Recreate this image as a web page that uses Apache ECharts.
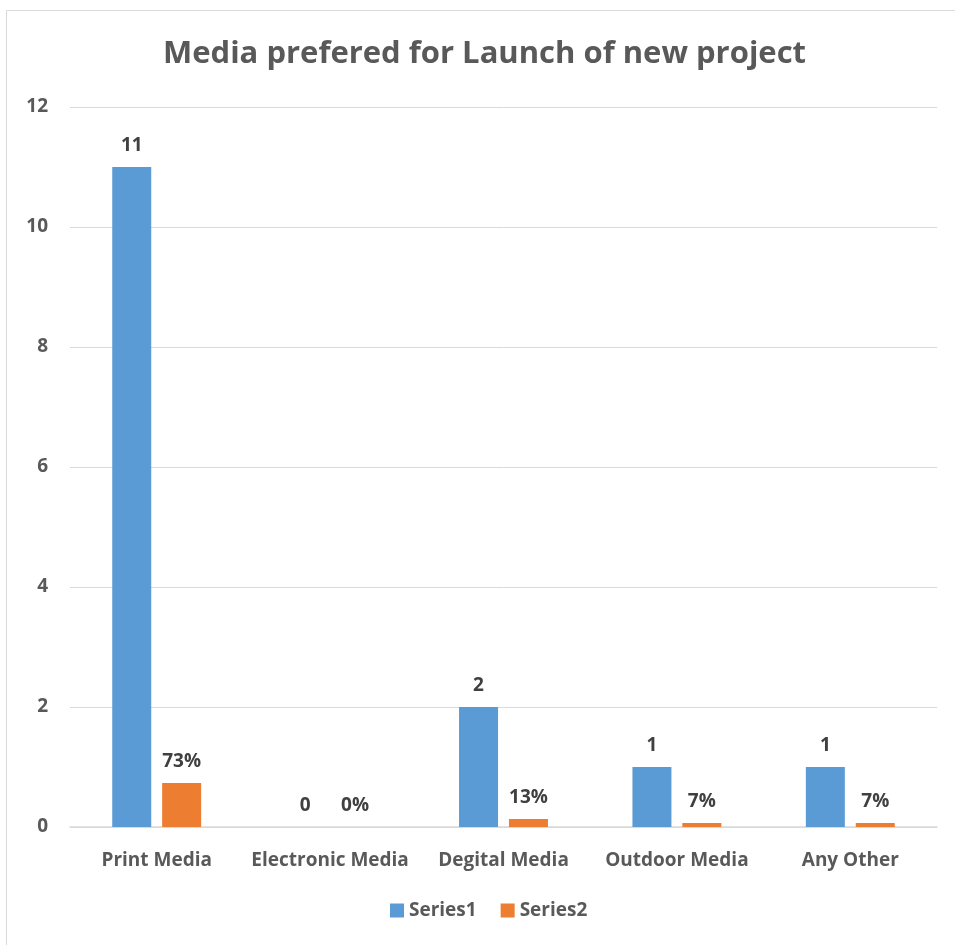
<!DOCTYPE html>
<html>
<head>
<meta charset="utf-8">
<script src="https://cdn.jsdelivr.net/npm/echarts@6/dist/echarts.min.js"></script>
<style>
  html, body { margin: 0; padding: 0; background: #ffffff; }
  #chart { width: 955px; height: 945px; }
</style>
</head>
<body>
<div id="chart"></div>
<script>
// Survey answers: which media is preferred for launching a new project
const categories = ['Print Media', 'Electronic Media', 'Degital Media', 'Outdoor Media', 'Any Other'];
const series1Counts = [11, 0, 2, 1, 1];
const series2Shares = [11 / 15, 0, 2 / 15, 1 / 15, 1 / 15];
const yTicks = { min: 0, max: 12, interval: 2 };

const FONT = '"Open Sans", "Noto Sans", sans-serif';
const TEXT = '#595959';
const LABEL = '#404040';

const chart = echarts.init(document.getElementById('chart'), null, { renderer: 'canvas' });

chart.setOption({
  backgroundColor: '#ffffff',
  animation: false,
  graphic: [{
    type: 'rect',
    shape: { x: 6.5, y: 10.5, width: 960, height: 950 },
    style: { fill: 'none', stroke: '#d9d9d9', lineWidth: 1 },
    silent: true,
    z: -10
  }],
  title: {
    text: 'Media prefered for Launch of new project',
    left: 158,
    top: 34,
    textStyle: { fontFamily: FONT, fontSize: 31, fontWeight: 'bold', color: TEXT }
  },
  grid: { left: 70, right: 18, top: 107, bottom: 118, containLabel: false },
  legend: {
    bottom: 20,
    left: 385,
    itemWidth: 14,
    itemHeight: 14,
    itemGap: 24,
    icon: 'rect',
    textStyle: { fontFamily: FONT, fontSize: 19, fontWeight: 'bold', color: TEXT },
    data: ['Series1', 'Series2']
  },
  xAxis: {
    type: 'category',
    data: categories,
    axisTick: { show: false },
    axisLine: { lineStyle: { color: '#d9d9d9', width: 1.5 } },
    axisLabel: { interval: 0, fontFamily: FONT, fontSize: 19, fontWeight: 'bold', color: TEXT, margin: 24 }
  },
  yAxis: {
    type: 'value',
    min: yTicks.min,
    max: yTicks.max,
    interval: yTicks.interval,
    axisLine: { show: false },
    axisTick: { show: false },
    splitLine: { lineStyle: { color: '#d9d9d9', width: 1 } },
    axisLabel: { fontFamily: FONT, fontSize: 19, fontWeight: 'bold', color: TEXT, margin: 22 }
  },
  series: [
    {
      name: 'Series1',
      type: 'bar',
      data: series1Counts,
      barWidth: 39,
      barGap: '28%',
      itemStyle: { color: '#5b9bd5' },
      label: {
        show: true,
        position: 'top',
        distance: 12,
        fontFamily: FONT, fontSize: 19, fontWeight: 'bold', color: LABEL
      }
    },
    {
      name: 'Series2',
      type: 'bar',
      data: series2Shares,
      barWidth: 39,
      itemStyle: { color: '#ed7d31' },
      label: {
        show: true,
        position: 'top',
        distance: 12,
        fontFamily: FONT, fontSize: 19, fontWeight: 'bold', color: LABEL,
        formatter: p => Math.round(p.value * 100) + '%'
      }
    }
  ]
});
</script>
</body>
</html>
